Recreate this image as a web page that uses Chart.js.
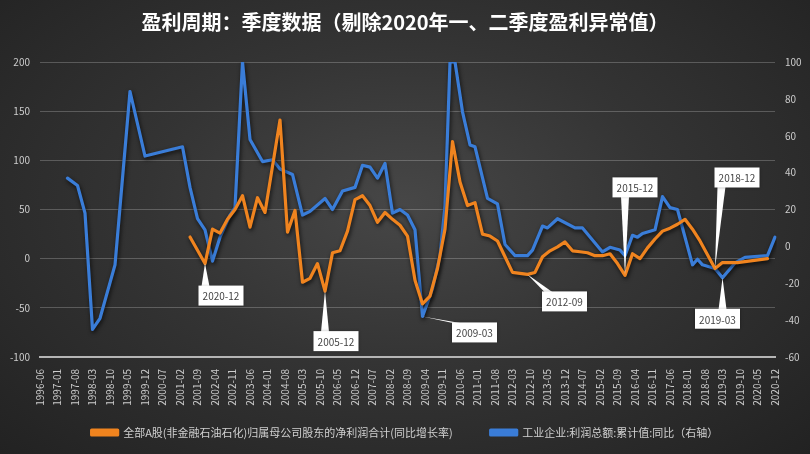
<!DOCTYPE html>
<html>
<head>
<meta charset="utf-8">
<script src="https://cdn.jsdelivr.net/npm/chart.js@4.4.1/dist/chart.umd.min.js"></script>
<style>
html, body { margin: 0; padding: 0; }
body {
    width: 810px; height: 454px; overflow: hidden;
    background: radial-gradient(ellipse at 50% 45%, #474747 0%, #343434 45%, #222 100%);
}
#wrap { position: relative; width: 810px; height: 454px; }
</style>
</head>
<body>
<div id="wrap"><canvas id="chart"></canvas></div>
<script>
// tick labels shown on the x axis (every 7th month)
const shownTicks = ['1996-06','1997-01','1997-08','1998-03','1998-10','1999-05','1999-12','2000-07','2001-02','2001-09',
    '2002-04','2002-11','2003-06','2004-01','2004-08','2005-03','2005-10','2006-05','2006-12','2007-07','2008-02',
    '2008-09','2009-04','2009-11','2010-06','2011-01','2011-08','2012-03','2012-10','2013-05','2013-12','2014-07',
    '2015-02','2015-09','2016-04','2016-11','2017-06','2018-01','2018-08','2019-03','2019-10','2020-05','2020-12'];

// orange: 全部A股净利润同比 (left axis), quarterly
const orangeDates = ['2001-06','2001-12','2002-03','2002-06','2002-09','2002-12','2003-03','2003-06','2003-09','2003-12',
    '2004-06','2004-09','2004-12','2005-03','2005-06','2005-09','2005-12','2006-03','2006-06','2006-09','2006-12',
    '2007-03','2007-06','2007-09','2007-12','2008-03','2008-06','2008-09','2008-12','2009-03','2009-06','2009-09','2009-12',
    '2010-03','2010-06','2010-09','2010-12','2011-03','2011-06','2011-09','2011-12','2012-03','2012-06','2012-09','2012-12',
    '2013-03','2013-06','2013-09','2013-12','2014-03','2014-06','2014-09','2014-12','2015-03','2015-06','2015-09','2015-12',
    '2016-03','2016-06','2016-09','2016-12','2017-03','2017-06','2017-09','2017-12','2018-03','2018-06','2018-09','2018-12',
    '2019-03','2019-06','2019-09','2019-12','2020-09'];
const orangeValues = [22, -5, 30, 26, 40, 50, 64, 32, 62, 47,
    141, 27, 49, -24, -20, -5, -33, 6, 8, 28, 60,
    64, 54, 37, 47, 40, 34, 23, -22, -46, -38, -10, 30,
    119, 78, 54, 57, 25, 23, 18, 2, -14, -15, -16, -14,
    2, 8, 12, 17, 8, 7, 6, 3, 3, 5, -5, -17,
    5, 0, 11, 20, 28, 31, 35, 40, 30, 18, 4, -10,
    -4, -4, -4, -3, 0];

// blue: 工业企业利润总额累计同比 (right axis)
const blueDates = ['1997-05','1997-09','1997-12','1998-03','1998-06','1998-12','1999-06','1999-12','2001-03','2001-06',
    '2001-09','2001-12','2002-03','2002-06','2002-10','2002-12','2003-03','2003-06','2003-11','2004-03','2004-06',
    '2004-11','2005-03','2005-06','2005-12','2006-03','2006-07','2006-12','2007-03','2007-06','2007-09','2007-12',
    '2008-03','2008-06','2008-09','2008-12','2009-03','2009-07','2009-10','2009-12','2010-02','2010-04','2010-07',
    '2010-10','2010-12','2011-05','2011-09','2011-12','2012-04','2012-09','2012-11','2013-03','2013-05','2013-09',
    '2014-04','2014-07','2015-03','2015-06','2015-10','2015-12','2016-03','2016-05','2016-07','2016-12','2017-03',
    '2017-06','2017-09','2018-03','2018-05','2018-07','2018-12','2019-03','2019-08','2019-12','2020-09','2020-12'];
const blueValues = [37, 33, 18, -45, -39, -10, 84, 49, 54, 32,
    15, 9, -8, 5, 17, 21, 100, 58, 46, 47, 42,
    39, 17, 19, 26, 20, 30, 32, 44, 43, 37, 45,
    18, 20, 17, 9, -38, -23, -5, 22, 100, 100, 73,
    55, 54, 26, 23, 1, -5, -5, -2, 11, 10, 15,
    10, 10, -3, -0.5, -2, -5, 6, 5, 7, 9, 27,
    21, 20, -10, -7, -10, -12, -17, -9, -6, -5, 5];

// callout boxes: which series/date they point at, and where the box sits
const notes = [
    { text: '2020-12', ds: 0, date: '2001-12', dx: 16, dy: 32 },
    { text: '2005-12', ds: 0, date: '2005-12', dx: 11, dy: 50 },
    { text: '2009-03', ds: 1, date: '2009-03', dx: 52, dy: 16 },
    { text: '2012-09', ds: 0, date: '2012-09', dx: 37, dy: 27 },
    { text: '2015-12', ds: 0, date: '2015-12', dx: 10, dy: -88 },
    { text: '2018-12', ds: 0, date: '2018-12', dx: 22, dy: -91 },
    { text: '2019-03', ds: 1, date: '2019-03', dx: -5, dy: 41 }
];

// monthly category axis 1996-06 .. 2020-12
const months = [];
for (let y = 1996; y <= 2020; y++) {
    for (let m = 1; m <= 12; m++) {
        if (y === 1996 && m < 6) continue;
        months.push(y + '-' + String(m).padStart(2, '0'));
    }
}

const toPoints = (dates, vals) => dates.map((d, i) => ({ x: d, y: vals[i] }));

const FONT = '"Noto Sans CJK SC", "Noto Sans", sans-serif';
Chart.defaults.font.family = FONT;

// dark drop shadow under the lines
const shadow = {
    id: 'shadow',
    beforeDatasetDraw(chart) {
        const c = chart.ctx;
        c.save();
        c.shadowColor = 'rgba(0,0,0,0.75)';
        c.shadowBlur = 4;
        c.shadowOffsetX = 1;
        c.shadowOffsetY = 2;
    },
    afterDatasetDraw(chart) {
        chart.ctx.restore();
    }
};

const callouts = {
    id: 'callouts',
    afterDatasetsDraw(chart) {
        const ctx = chart.ctx;
        notes.forEach(n => {
            const ds = chart.data.datasets[n.ds];
            const idx = ds.data.findIndex(p => p.x === n.date);
            const pt = chart.getDatasetMeta(n.ds).data[idx];
            if (!pt) return;
            const px = pt.x, py = pt.y;
            const w = 45, h = 20;
            const bx = px + n.dx - w / 2, by = py + n.dy - h / 2;
            const ex = Math.min(Math.max(px, bx + 7), bx + w - 7);
            const ey = py < by ? by + 1 : by + h - 1;
            ctx.save();
            ctx.fillStyle = '#fff';
            ctx.beginPath();
            ctx.moveTo(px, py);
            ctx.lineTo(ex - 4, ey);
            ctx.lineTo(ex + 4, ey);
            ctx.closePath();
            ctx.fill();
            ctx.shadowColor = 'rgba(0,0,0,0.4)';
            ctx.shadowBlur = 3;
            ctx.fillRect(bx, by, w, h);
            ctx.shadowColor = 'transparent';
            ctx.fillStyle = '#444';
            ctx.font = '10px ' + FONT;
            ctx.textAlign = 'center';
            ctx.textBaseline = 'middle';
            ctx.fillText(n.text, bx + w / 2, by + h / 2 + 1);
            ctx.restore();
        });
    }
};

new Chart(document.getElementById('chart'), {
    type: 'line',
    data: {
        labels: months,
        datasets: [{
            label: '全部A股(非金融石油石化)归属母公司股东的净利润合计(同比增长率)　　',
            data: toPoints(orangeDates, orangeValues),
            yAxisID: 'y',
            borderColor: '#f0841f',
            backgroundColor: '#f0841f',
            borderWidth: 3.2,
            pointRadius: 0,
            tension: 0,
            borderJoinStyle: 'round',
            borderCapStyle: 'round'
        }, {
            label: '工业企业:利润总额:累计值:同比（右轴）',
            data: toPoints(blueDates, blueValues),
            yAxisID: 'y1',
            borderColor: '#3a7dd8',
            backgroundColor: '#3a7dd8',
            borderWidth: 3.2,
            pointRadius: 0,
            tension: 0,
            borderJoinStyle: 'round',
            borderCapStyle: 'round'
        }]
    },
    options: {
        responsive: true,
        maintainAspectRatio: false,
        animation: false,
        layout: { padding: { bottom: 6 } },
        plugins: {
            title: {
                display: true,
                text: '盈利周期：季度数据（剔除2020年一、二季度盈利异常值）',
                color: '#ffffff',
                font: { size: 20, weight: 'bold' },
                padding: { top: 10, bottom: 28 }
            },
            legend: {
                position: 'bottom',
                labels: {
                    color: '#d0d0d0',
                    font: { size: 11 },
                    boxWidth: 26,
                    boxHeight: 5,
                    padding: 16
                }
            },
            tooltip: { enabled: false }
        },
        scales: {
            x: {
                type: 'category',
                grid: { display: false },
                border: { color: '#b5b5b5', width: 2 },
                ticks: {
                    autoSkip: false,
                    maxRotation: 90,
                    minRotation: 90,
                    color: '#cccccc',
                    font: { size: 10 },
                    padding: 4,
                    callback: function(v, i) {
                        const l = months[i];
                        return shownTicks.includes(l) ? l : '';
                    }
                },
                afterFit: s => { s.height = 54; }
            },
            y: {
                position: 'left',
                min: -100,
                max: 200,
                ticks: { stepSize: 50, color: '#cccccc', font: { size: 10 }, padding: 10 },
                grid: { color: 'rgba(255,255,255,0.22)', drawTicks: false },
                border: { display: false },
                afterFit: s => { s.width = 40; }
            },
            y1: {
                position: 'right',
                min: -60,
                max: 100,
                ticks: { stepSize: 20, color: '#cccccc', font: { size: 10 }, padding: 10 },
                grid: { display: false, drawTicks: false },
                border: { display: false },
                afterFit: s => { s.width = 35; }
            }
        }
    },
    plugins: [shadow, callouts]
});
</script>
</body>
</html>
